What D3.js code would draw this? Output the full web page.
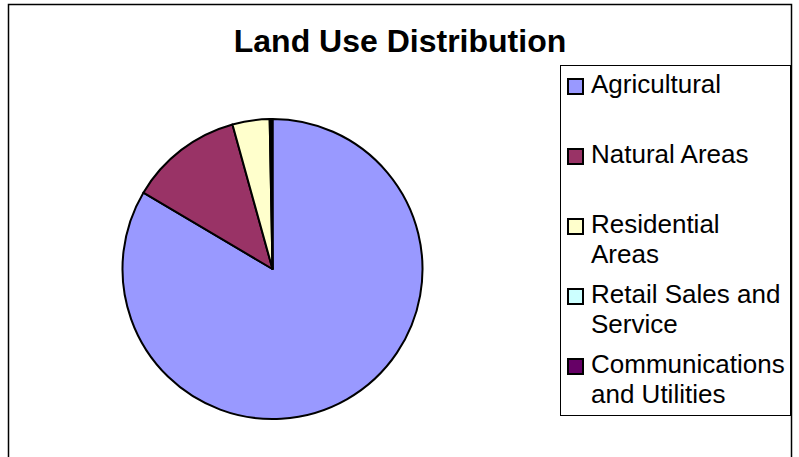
<!DOCTYPE html>
<html>
<head>
<meta charset="utf-8">
<script src="https://cdn.jsdelivr.net/npm/d3@7"></script>
<style>
    body { margin: 0; background: #fff; }
    svg { display: block; font-family: "Liberation Sans", Arial, sans-serif; }
</style>
</head>
<body>
<div id="chart"></div>
<script>
// Data
var categories = ["Agricultural", "Natural Areas", "Residential Areas", "Retail Sales and Service", "Communications and Utilities"];
var legendLines = [["Agricultural"], ["Natural Areas"], ["Residential", "Areas"], ["Retail Sales and", "Service"], ["Communications", "and Utilities"]];
var shares = [83.5, 12.2, 4.0, 0.2, 0.1];
var colors = ["#9999FF", "#993366", "#FFFFCC", "#CCFFFF", "#660066"];

var width = 799, height = 457;

var svg = d3.select("#chart").append("svg")
    .attr("width", width)
    .attr("height", height);

// chart frame
svg.append("rect")
    .attr("x", 8.5)
    .attr("y", 4.5)
    .attr("width", 783)
    .attr("height", 480)
    .attr("fill", "#fff")
    .attr("stroke", "#000")
    .attr("stroke-width", 1.5);

svg.append("text")
    .attr("x", 400)
    .attr("y", 52)
    .attr("text-anchor", "middle")
    .attr("font-size", 32)
    .attr("font-weight", "bold")
    .text("Land Use Distribution");

// Pie
var radius = 150;
var pie = d3.pie().sort(null).value(function(d) { return d; });
var arc = d3.arc().innerRadius(0).outerRadius(radius);

var g = svg.append("g")
    .attr("transform", "translate(272.5,269)");

g.selectAll("path")
    .data(pie(shares))
    .enter()
    .append("path")
    .attr("d", arc)
    .attr("fill", function(d, i) { return colors[i]; })
    .attr("stroke", "#000")
    .attr("stroke-width", 2)
    .attr("stroke-linejoin", "round");

// Legend
var legend = svg.append("g");

legend.append("rect")
    .attr("x", 560.5)
    .attr("y", 65.5)
    .attr("width", 230)
    .attr("height", 350)
    .attr("fill", "#fff")
    .attr("stroke", "#000")
    .attr("stroke-width", 1);

var item = legend.selectAll(".item")
    .data(categories)
    .enter()
    .append("g")
    .attr("class", "item")
    .attr("transform", function(d, i) { return "translate(0," + (93 + i * 70) + ")"; });

item.append("rect")
    .attr("x", 568)
    .attr("y", -14)
    .attr("width", 15)
    .attr("height", 15)
    .attr("fill", function(d, i) { return colors[i]; })
    .attr("stroke", "#000")
    .attr("stroke-width", 2);

item.append("text")
    .attr("x", 591)
    .attr("font-size", 26)
    .selectAll("tspan")
    .data(function(d, i) { return legendLines[i]; })
    .enter()
    .append("tspan")
    .attr("x", 591)
    .attr("dy", function(d, j) { return j === 0 ? 0 : 30; })
    .text(function(d) { return d; });
</script>
</body>
</html>
